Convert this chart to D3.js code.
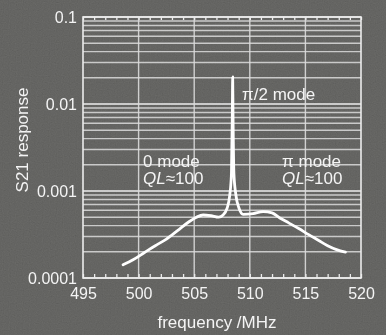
<!DOCTYPE html>
<html>
<head>
<meta charset="utf-8">
<script src="https://cdn.jsdelivr.net/npm/d3@7"></script>
<style>
  html, body { margin: 0; padding: 0; background: #5b5b59; }
  svg { display: block; }
  text { font-family: "Liberation Sans", Arial, sans-serif; fill: #f4f4f4; }
</style>
</head>
<body>
<svg id="chart" width="386" height="335"></svg>
<script>
// ---- data ----
const freq = [498.6, 499.5, 500.5, 501.5, 502.5, 503.5, 504.5, 505.2, 505.8, 506.5, 507.2,
              507.6, 507.95, 508.2, 508.35, 508.43, 508.46, 508.49, 508.57, 508.75, 509.0,
              509.4, 510.3, 511.2, 512.0, 512.7, 513.5, 514.4, 515.3, 516.2, 517.0, 517.8, 518.6];
const s21 = [1.42e-4, 1.62e-4, 1.95e-4, 2.35e-4, 2.8e-4, 3.5e-4, 4.4e-4, 5.0e-4, 5.3e-4, 5.2e-4, 5.0e-4,
             5.3e-4, 6.3e-4, 9.0e-4, 1.6e-3, 8.0e-3, 2.05e-2, 8.0e-3, 1.6e-3, 9.0e-4, 6.5e-4,
             5.4e-4, 5.5e-4, 5.8e-4, 5.6e-4, 4.9e-4, 4.3e-4, 3.7e-4, 3.15e-4, 2.7e-4, 2.35e-4, 2.12e-4, 1.98e-4];
const xTicks = [495, 500, 505, 510, 515, 520];
const yTicks = [0.1, 0.01, 0.001, 0.0001];
const yTickLabels = ["0.1", "0.01", "0.001", "0.0001"];
const xMinor = d3.range(495, 521, 1);
const yMinor = [1e-4, 1e-3, 1e-2].flatMap(d => d3.range(2, 10).map(k => k * d));
const annotations = [
  { text: "π/2 mode", f: 509.3, v: 0.0111, italicQL: false },
  { text: "0 mode", f: 500.4, v: 1.89e-3, italicQL: false },
  { text: "QL≈100", f: 500.4, v: 1.2e-3, italicQL: true },
  { text: "π mode", f: 512.9, v: 1.89e-3, italicQL: false },
  { text: "QL≈100", f: 512.9, v: 1.2e-3, italicQL: true }
];

// ---- layout ----
const svg = d3.select("#chart");
const W = 386, H = 335;
const L = 83, R = 361, T = 17, B = 278;
const x = d3.scaleLinear().domain([495, 520]).range([L, R]);
const y = d3.scaleLog().domain([1e-4, 0.1]).range([B, T]);
const gridColor = "#dcdcdc";

// grainy background
const defs = svg.append("defs");
const flt = defs.append("filter").attr("id", "grain").attr("x", 0).attr("y", 0)
  .attr("width", "100%").attr("height", "100%");
flt.append("feTurbulence").attr("type", "fractalNoise").attr("baseFrequency", 0.85)
  .attr("numOctaves", 1).attr("seed", 3).attr("result", "n");
flt.append("feColorMatrix").attr("type", "matrix")
  .attr("values", "0.33 0.33 0.33 0 0  0.33 0.33 0.33 0 0  0.33 0.33 0.33 0 0  0 0 0 0 1");
svg.append("rect").attr("width", W).attr("height", H).attr("fill", "#5b5b59");
svg.append("rect").attr("width", W).attr("height", H).attr("filter", "url(#grain)")
  .attr("opacity", 0.22).style("mix-blend-mode", "overlay");

// grid
svg.append("g").selectAll("line.h").data(yMinor).join("line")
  .attr("x1", L).attr("x2", R)
  .attr("y1", d => y(d)).attr("y2", d => y(d))
  .attr("stroke", gridColor).attr("stroke-width", 1.4).attr("opacity", 0.85);
svg.append("g").selectAll("line.hm").data(yTicks).join("line")
  .attr("x1", L).attr("x2", R)
  .attr("y1", d => y(d)).attr("y2", d => y(d))
  .attr("stroke", "#ececec").attr("stroke-width", 1.6);
svg.append("g").selectAll("line.v").data(xTicks.slice(1, -1)).join("line")
  .attr("x1", d => x(d)).attr("x2", d => x(d))
  .attr("y1", T).attr("y2", B)
  .attr("stroke", gridColor).attr("stroke-width", 1.4).attr("opacity", 0.9);

// frame
svg.append("rect").attr("x", L).attr("y", T).attr("width", R - L).attr("height", B - T)
  .attr("fill", "none").attr("stroke", "#ececec").attr("stroke-width", 1.6);

// minor ticks (bottom up, top down)
const xAxisB = d3.axisBottom(x).tickValues(xMinor).tickSize(-4).tickFormat("");
const gB = svg.append("g").attr("transform", `translate(0,${B})`).call(xAxisB);
gB.select(".domain").remove();
gB.selectAll("line").attr("stroke", "#ececec").attr("stroke-width", 1.3);
const xAxisT = d3.axisTop(x).tickValues(xMinor).tickSize(-3).tickFormat("");
const gT = svg.append("g").attr("transform", `translate(0,${T})`).call(xAxisT);
gT.select(".domain").remove();
gT.selectAll("line").attr("stroke", "#ececec").attr("stroke-width", 1.3);

// tick labels
const gx = svg.append("g").attr("transform", `translate(0,${B})`)
  .call(d3.axisBottom(x).tickValues(xTicks).tickSize(0).tickPadding(10).tickFormat(d3.format("d")));
gx.select(".domain").remove();
gx.selectAll("text").attr("font-size", 16).attr("fill", "#f4f4f4")
  .style("font-family", '"Liberation Sans", Arial, sans-serif');

const gy = svg.append("g").attr("transform", `translate(${L},0)`)
  .call(d3.axisLeft(y).tickValues(yTicks).tickSize(0).tickPadding(6)
    .tickFormat((d, i) => yTickLabels[i]));
gy.select(".domain").remove();
gy.selectAll("text").attr("font-size", 16).attr("fill", "#f4f4f4")
  .style("font-family", '"Liberation Sans", Arial, sans-serif');

// axis titles
svg.append("text").attr("x", 217).attr("y", 328).attr("text-anchor", "middle")
  .attr("font-size", 17).text("frequency /MHz");
svg.append("text").attr("transform", "translate(28,140) rotate(-90)")
  .attr("text-anchor", "middle").attr("font-size", 17).text("S21 response");

// curve
const pts = freq.map((f, i) => [f, s21[i]]);
svg.append("path").datum(pts)
  .attr("fill", "none").attr("stroke", "#ffffff").attr("stroke-width", 2.8)
  .attr("stroke-linejoin", "round").attr("stroke-linecap", "round")
  .attr("d", d3.line().x(d => x(d[0])).y(d => y(d[1])).curve(d3.curveMonotoneX));

// annotations
annotations.forEach(a => {
  const t = svg.append("text").attr("x", x(a.f)).attr("y", y(a.v)).attr("font-size", 17);
  if (a.italicQL) {
    t.append("tspan").attr("font-style", "italic").text("QL");
    t.append("tspan").text(a.text.slice(2));
  } else {
    t.text(a.text);
  }
});
</script>
</body>
</html>
